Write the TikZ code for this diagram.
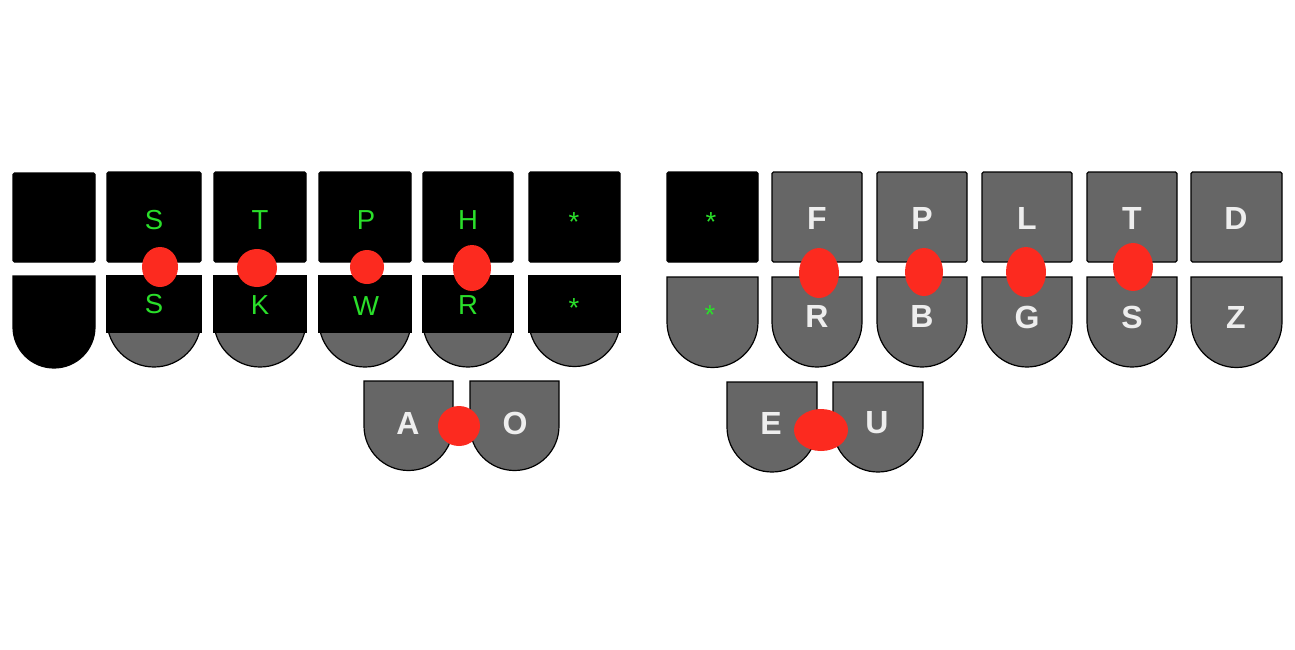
\documentclass[tikz,border=0pt]{standalone}
\usepackage{fontspec}
\setmainfont{Liberation Sans}
\definecolor{keygray}{HTML}{666666}
\definecolor{keygreen}{HTML}{2ADF2A}
\definecolor{keytext}{HTML}{EEEEEE}
\definecolor{dotred}{HTML}{FC2A1F}
\newcommand\botkey[6]{% x1 x2 ytop ycenter radius fill
  \draw[keyline,fill=#6] (#1,#3) -- (#1,#4) arc[start angle=180,end angle=360,radius=#5pt] -- (#2,#3) -- cycle;}
\begin{document}
\begin{tikzpicture}[x=1pt,y=-1pt,
  keyline/.style={draw=black,line width=1.2pt},
  topkey/.style={keyline,rounded corners=1.5pt},
  greenlbl/.style={text=keygreen,font=\fontsize{27.5}{30}\selectfont,inner sep=0pt},
  boldlbl/.style={text=keytext,font=\fontsize{32}{34}\selectfont\bfseries,inner sep=0pt},
  dot/.style={fill=dotred}]
\useasboundingbox (0,0) rectangle (1295,649);
% ---------- left hand: top row ----------
\draw[topkey,fill=black] (13,173) rectangle (95,262);
\draw[topkey,fill=black] (107,172) rectangle (201,262);
\draw[topkey,fill=black] (214,172) rectangle (306,262);
\draw[topkey,fill=black] (319,172) rectangle (411,262);
\draw[topkey,fill=black] (423,172) rectangle (513,262);
\draw[topkey,fill=black] (529,172) rectangle (620,262);
% ---------- left hand: bottom row ----------
\botkey{13}{95}{276}{327}{41}{black}
\botkey{107}{201}{276}{320}{47}{keygray}
\draw[keyline,fill=black] (107,276) rectangle (201,332);
\botkey{214}{306}{276}{321}{46}{keygray}
\draw[keyline,fill=black] (214,276) rectangle (306,332);
\botkey{319}{411}{276}{321}{46}{keygray}
\draw[keyline,fill=black] (319,276) rectangle (411,332);
\botkey{423}{513}{276}{322}{45}{keygray}
\draw[keyline,fill=black] (423,276) rectangle (513,332);
\botkey{529}{620}{276}{321}{45.5}{keygray}
\draw[keyline,fill=black] (529,276) rectangle (620,332);
% ---------- left thumbs ----------
\botkey{364}{453}{381}{426}{44.5}{keygray}
\botkey{470}{559}{381}{426}{44.5}{keygray}
% ---------- right hand: top row ----------
\draw[topkey,fill=black] (667,172) rectangle (758,262);
\draw[topkey,fill=keygray] (772,172) rectangle (862,262);
\draw[topkey,fill=keygray] (877,172) rectangle (967,262);
\draw[topkey,fill=keygray] (982,172) rectangle (1072,262);
\draw[topkey,fill=keygray] (1087,172) rectangle (1177,262);
\draw[topkey,fill=keygray] (1191,172) rectangle (1282,262);
% ---------- right hand: bottom row ----------
\botkey{667}{758}{277}{322}{45.5}{keygray}
\botkey{772}{862}{277}{322}{45}{keygray}
\botkey{877}{967}{277}{322}{45}{keygray}
\botkey{982}{1072}{277}{322}{45}{keygray}
\botkey{1087}{1177}{277}{322}{45}{keygray}
\botkey{1191}{1282}{277}{322}{45.5}{keygray}
% ---------- right thumbs ----------
\botkey{727}{817}{382}{427}{45}{keygray}
\botkey{833}{923}{382}{427}{45}{keygray}
% ---------- labels: left ----------
\node[greenlbl] (lS1) at (154,220) {S};
\node[greenlbl] (lT)  at (260,220) {T};
\node[greenlbl] (lP)  at (366,220) {P};
\node[greenlbl] (lH)  at (468,220) {H};
\node[greenlbl] (lst1) at (574,222) {*};
\node[greenlbl] (lS2) at (154,304) {S};
\node[greenlbl] (lK)  at (260,305) {K};
\node[greenlbl] (lW)  at (366,306) {W};
\node[greenlbl] (lR)  at (468,305) {R};
\node[greenlbl] (lst2) at (574,308) {*};
\node[boldlbl] (lA) at (408,423) {A};
\node[boldlbl] (lO) at (515,423) {O};
% ---------- labels: right ----------
\node[greenlbl] (rst1) at (711,222) {*};
\node[greenlbl] (rst2) at (710,315) {*};
\node[boldlbl] (rF) at (817,218) {F};
\node[boldlbl] (rP) at (922,218) {P};
\node[boldlbl] (rL) at (1027,218) {L};
\node[boldlbl] (rT) at (1132,218) {T};
\node[boldlbl] (rD) at (1236,218) {D};
\node[boldlbl] (rR) at (817,316) {R};
\node[boldlbl] (rB) at (922,316) {B};
\node[boldlbl] (rG) at (1027,317) {G};
\node[boldlbl] (rS) at (1132,317) {S};
\node[boldlbl] (rZ) at (1236,317) {Z};
\node[boldlbl] (rE) at (771,423) {E};
\node[boldlbl] (rU) at (877,423) {U};
% ---------- red dots ----------
\fill[dot] (160,267) ellipse [x radius=18pt,y radius=20pt];
\fill[dot] (257,268) ellipse [x radius=20pt,y radius=19pt];
\fill[dot] (367,267) ellipse [x radius=17pt,y radius=17pt];
\fill[dot] (472,268) ellipse [x radius=19pt,y radius=23pt];
\fill[dot] (459,426) ellipse [x radius=21pt,y radius=20pt];
\fill[dot] (819,273) ellipse [x radius=20pt,y radius=25pt];
\fill[dot] (924,272) ellipse [x radius=19pt,y radius=24pt];
\fill[dot] (1026,272) ellipse [x radius=20pt,y radius=25pt];
\fill[dot] (1133,267) ellipse [x radius=20pt,y radius=24pt];
\fill[dot] (821,430) ellipse [x radius=27pt,y radius=21pt];
\end{tikzpicture}
\end{document}
